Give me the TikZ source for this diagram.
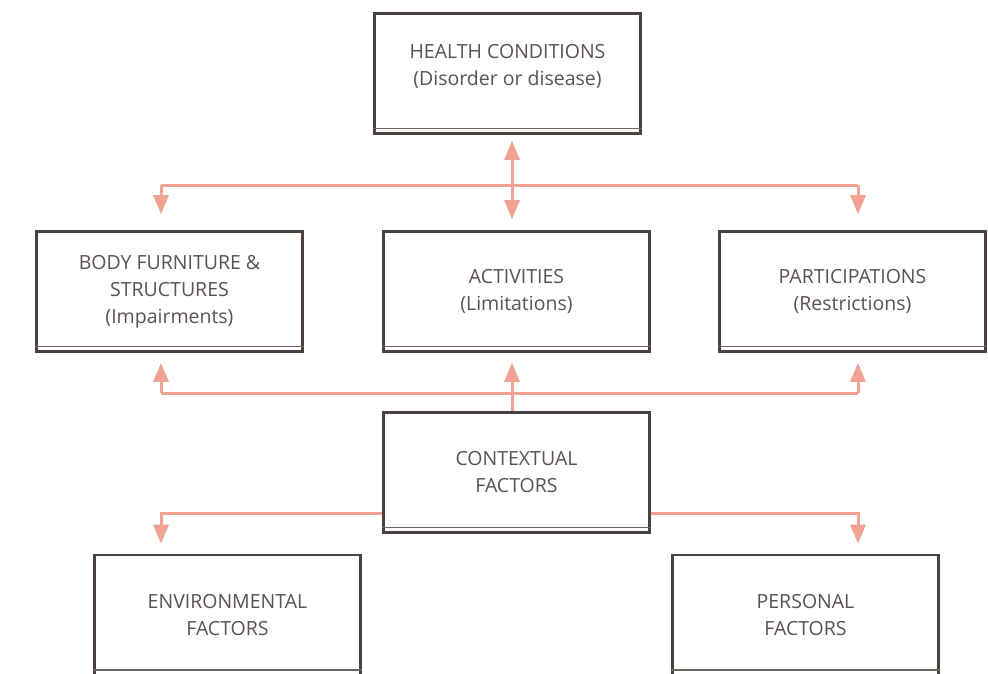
\documentclass[tikz,border=0pt]{standalone}
\usepackage{fontspec}
\setmainfont{Open Sans}
\usepackage{xcolor}
\usetikzlibrary{arrows.meta}

\definecolor{boxline}{HTML}{4A423F}
\definecolor{stripline}{HTML}{6E6561}
\definecolor{salmon}{HTML}{F0A392}
\definecolor{txtgray}{HTML}{5A5250}

\tikzset{
	box/.style={draw=boxline, line width=2.6pt, minimum width=266pt, minimum height=120pt,
		inner sep=0pt, text=txtgray, align=center, font=\fontsize{19.5}{27}\selectfont},
	boxtext/.style={text=txtgray, align=center, font=\fontsize{19.5}{27}\selectfont},
	strip/.style={draw=stripline, line width=1.5pt},
	link/.style={draw=salmon, line width=3pt},
	>={Triangle[length=19pt,width=15pt]},
}

\begin{document}
\begin{tikzpicture}[x=1pt, y=-1pt]
		\clip (0,0) rectangle (988,674);

		\coordinate (tl)  at (161, 185);
		\coordinate (tr)  at (858, 185);
		\coordinate (hub) at (512, 185);

		\coordinate (bl)   at (161, 393);
		\coordinate (br)   at (858, 393);
		\coordinate (hub2) at (512, 393);

		\coordinate (cl) at (161, 513);
		\coordinate (cr) at (858, 513);

		\node (health) [box] at (507.5, 73.5) {};
		\node (healthtxt) [boxtext] at ([yshift=7pt]health.center)
			{HEALTH CONDITIONS\\(Disorder or disease)};

		\node (body) [box] at (169.5, 291.5) {BODY FURNITURE \&\\STRUCTURES\\(Impairments)};
		\node (act)  [box] at (516.5, 291.5) {ACTIVITIES\\(Limitations)};
		\node (part) [box] at (852.5, 291.5) {PARTICIPATIONS\\(Restrictions)};

		\node (ctx)  [box] at (516.5, 472.5) {CONTEXTUAL\\FACTORS};

		\node (env)  [box] at (227.5, 615) {ENVIRONMENTAL\\FACTORS};
		\node (pers) [box] at (805.5, 615) {PERSONAL\\FACTORS};

		% double line at the foot of each box
		\foreach \n in {health, body, act, part, ctx, env, pers}
			\draw [strip] ([yshift=6.5pt]\n.south west) -- ([yshift=6.5pt]\n.south east);

		% health conditions to the three columns
		\draw [link] (tl) -- (tr);
		\draw [link, <->, shorten <=6pt, shorten >=11pt] (hub |- health.south) -- (hub |- act.north);
		\draw [link, ->, shorten >=16pt] (tl) -- (tl |- body.north);
		\draw [link, ->, shorten >=16pt] (tr) -- (tr |- part.north);

		% contextual factors up to the three columns
		\draw [link] (bl) -- (br);
		\draw [link, ->, shorten >=10pt] (ctx.north -| hub2) -- (hub2 |- act.south);
		\draw [link, ->, shorten >=10pt] (bl) -- (bl |- body.south);
		\draw [link, ->, shorten >=10pt] (br) -- (br |- part.south);

		% contextual factors down to the two kinds
		\draw [link, ->, shorten >=10pt] (ctx.west |- cl) -- (cl) -- (cl |- env.north);
		\draw [link, ->, shorten >=10pt] (ctx.east |- cr) -- (cr) -- (cr |- pers.north);
	\end{tikzpicture}
\end{document}
